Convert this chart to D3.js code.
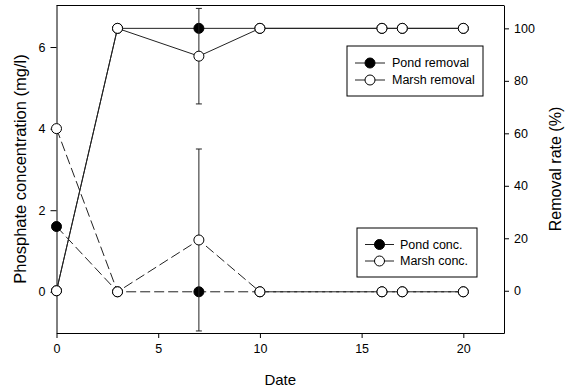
<!DOCTYPE html>
<html>
<head>
<meta charset="utf-8">
<script src="https://cdn.jsdelivr.net/npm/d3@7"></script>
<style>
  body { margin: 0; background: #fff; }
  svg { font-family: "Liberation Sans", Arial, sans-serif; }
</style>
</head>
<body>
<svg width="568" height="391"></svg>
<script>
const days = [0, 3, 7, 10, 16, 17, 20];
const pondRemoval = [0, 100, 100, 100, 100, 100, 100];
const marshRemoval = [0, 100, 89.4, 100, 100, 100, 100];
const marshRemovalErr = [0, 0, 18.2, 0, 0, 0, 0];
const pondConc = [1.6, 0, 0, 0, 0, 0, 0];
const marshConc = [4.0, 0, 1.27, 0, 0, 0, 0];
const marshConcErr = [0, 0, 2.23, 0, 0, 0, 0];

const xTicks = [0, 5, 10, 15, 20];
const leftTicks = [0, 2, 4, 6];
const rightTicks = [0, 20, 40, 60, 80, 100];

const svg = d3.select('svg');
const pLeft = 56.5, pRight = 504, pTop = 5, pBottom = 333;

const x = d3.scaleLinear().domain([0, 22]).range([pLeft, pRight]);
const yL = d3.scaleLinear().domain([-1.01, 7.03]).range([pBottom, pTop]);
const yR = d3.scaleLinear().domain([-16.1, 108.9]).range([pBottom, pTop]);

// frame top line
svg.append('line')
    .attr('x1', pLeft).attr('x2', pRight)
    .attr('y1', pTop + 0.5).attr('y2', pTop + 0.5)
    .attr('stroke', '#000');

const xAxis = svg.append('g')
    .attr('transform', `translate(0,${pBottom})`)
    .call(d3.axisBottom(x).tickValues(xTicks).tickSize(5).tickPadding(6).tickSizeOuter(0));
const yAxisL = svg.append('g')
    .attr('transform', `translate(${pLeft},0)`)
    .call(d3.axisLeft(yL).tickValues(leftTicks).tickSize(6).tickPadding(5).tickSizeOuter(0));
const yAxisR = svg.append('g')
    .attr('transform', `translate(${pRight},0)`)
    .call(d3.axisRight(yR).tickValues(rightTicks).tickSize(5).tickPadding(5).tickSizeOuter(0));

[xAxis, yAxisL, yAxisR].forEach(g => {
    g.selectAll('text').attr('font-size', 12.5).attr('fill', '#000')
        .attr('font-family', '"Liberation Sans", Arial, sans-serif');
    g.select('.domain').attr('stroke', '#000');
});

// axis titles
svg.append('text')
    .attr('x', (pLeft + pRight) / 2).attr('y', 385)
    .attr('text-anchor', 'middle').attr('font-size', 15)
    .text('Date');
svg.append('text')
    .attr('transform', `translate(26,${(pTop + pBottom) / 2}) rotate(-90)`)
    .attr('text-anchor', 'middle').attr('font-size', 16.5)
    .text('Phosphate concentration (mg/l)');
svg.append('text')
    .attr('transform', `translate(561,${(pTop + pBottom) / 2}) rotate(-90)`)
    .attr('text-anchor', 'middle').attr('font-size', 16)
    .text('Removal rate (%)');

const lineColor = '#222';

function drawSeries(vals, errs, y, filled, dashed) {
    const pts = days.map((d, i) => ({ d, v: vals[i], e: errs ? errs[i] : 0 }));
    const g = svg.append('g');
    g.selectAll('.err').data(pts.filter(p => p.e > 0)).join('g').each(function(p) {
        const s = d3.select(this);
        s.append('line').attr('x1', x(p.d)).attr('x2', x(p.d))
            .attr('y1', y(p.v - p.e)).attr('y2', y(p.v + p.e)).attr('stroke', lineColor);
        [p.v - p.e, p.v + p.e].forEach(v => s.append('line')
            .attr('x1', x(p.d) - 3).attr('x2', x(p.d) + 3)
            .attr('y1', y(v)).attr('y2', y(v)).attr('stroke', lineColor));
    });
    g.append('path')
        .attr('d', d3.line().x(p => x(p.d)).y(p => y(p.v))(pts))
        .attr('fill', 'none').attr('stroke', lineColor)
        .attr('stroke-dasharray', dashed ? '10,4' : null);
    g.selectAll('circle').data(pts).join('circle')
        .attr('cx', p => x(p.d)).attr('cy', p => y(p.v)).attr('r', 5)
        .attr('fill', filled ? '#000' : '#fff').attr('stroke', '#000');
}

drawSeries(pondConc, null, yL, true, true);
drawSeries(marshConc, marshConcErr, yL, false, true);
drawSeries(pondRemoval, null, yR, true, false);
drawSeries(marshRemoval, marshRemovalErr, yR, false, false);

function legend(bx, by, bw, bh, items, lx0, lx1, tx) {
    const g = svg.append('g');
    g.append('rect').attr('x', bx).attr('y', by).attr('width', bw).attr('height', bh)
        .attr('fill', '#fff').attr('stroke', '#000');
    items.forEach(it => {
        g.append('line').attr('x1', lx0).attr('x2', lx1).attr('y1', it.y).attr('y2', it.y)
            .attr('stroke', lineColor);
        g.append('circle').attr('cx', (lx0 + lx1) / 2).attr('cy', it.y).attr('r', 5)
            .attr('fill', it.filled ? '#000' : '#fff').attr('stroke', '#000');
        g.append('text').attr('x', tx).attr('y', it.y + 4).attr('font-size', 12.5).text(it.label);
    });
}

legend(347, 46, 136, 50, [
    { label: 'Pond removal', y: 63, filled: true },
    { label: 'Marsh removal', y: 80, filled: false }
], 355, 385, 392);
legend(357, 228, 120, 49, [
    { label: 'Pond conc.', y: 244.5, filled: true },
    { label: 'Marsh conc.', y: 261, filled: false }
], 365, 394, 400);
</script>
</body>
</html>
